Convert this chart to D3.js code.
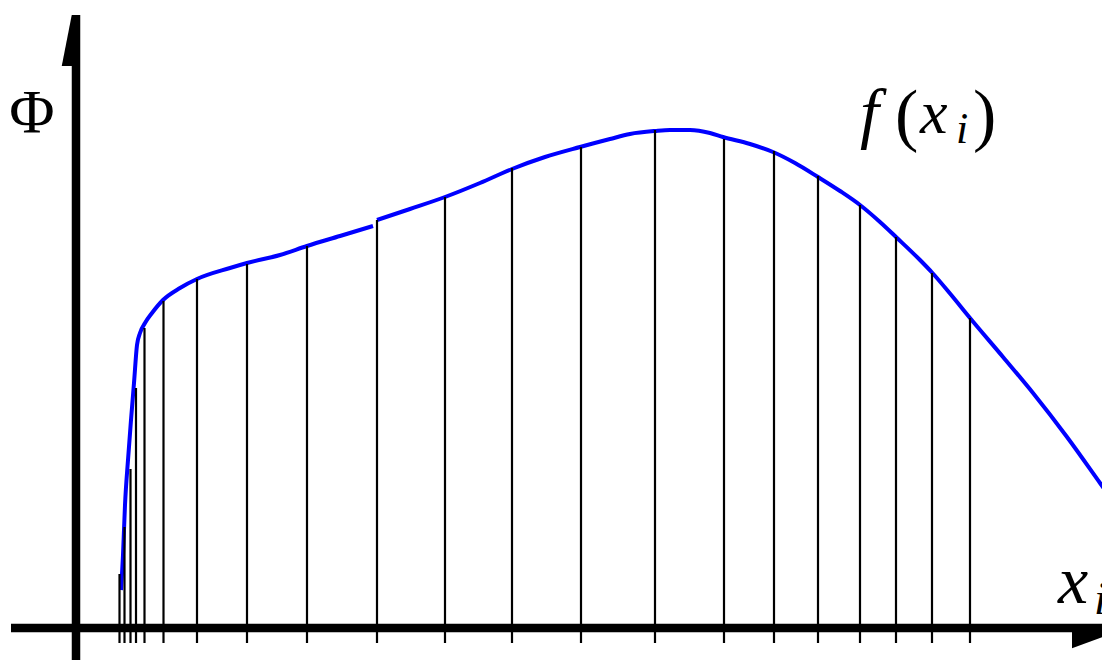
<!DOCTYPE html>
<html>
<head>
<meta charset="utf-8">
<script src="https://cdn.jsdelivr.net/npm/d3@7"></script>
<style>
  html, body { margin: 0; padding: 0; background: #fff; }
  svg { display: block; }
  text { font-family: "Liberation Serif", "DejaVu Serif", serif; fill: #000; }
</style>
</head>
<body>
<svg id="chart" width="1102" height="660"></svg>
<script>
// Sample points x_i and the function values f(x_i) at each of them
const sampleX = [4.35, 4.85, 5.45, 6.0, 6.85, 8.75, 12.1, 17.1, 23.1, 30.1, 36.9, 43.6,
                 50.5, 57.9, 64.8, 69.8, 74.2, 78.4, 82.0, 85.6, 89.4];
const sampleF = [10.8, 20.2, 31.8, 48.0, 60.0, 65.4, 69.8, 72.8, 76.4, 81.6, 86.2, 92.0,
                 96.2, 99.6, 97.8, 95.4, 90.4, 84.6, 78.2, 71.0, 62.0];

// The curve Φ(x), drawn as two pieces (slight jump between them)
const curveXA = [4.5, 4.7, 4.9, 5.2, 5.5, 5.8, 6.1, 6.4, 6.9, 7.6, 8.7, 10.4, 12.1, 15.4,
                 17.1, 20.4, 23.1, 26.4, 29.7];
const curveYA = [7.6, 14.6, 24.6, 33.6, 41.6, 49.0, 56.6, 59.0, 61.0, 63.0, 65.6, 68.0, 69.8,
                 72.0, 73.0, 74.6, 76.4, 78.4, 80.4];
const curveXB = [30.1, 33.4, 36.9, 40.4, 43.6, 46.9, 50.4, 53.4, 55.4, 57.9, 59.4, 61.4, 63.4,
                 64.7, 67.4, 69.7, 71.9, 74.2, 76.4, 78.4, 80.4, 82.0, 84.4, 85.6, 87.4, 89.4,
                 92.7, 95.7, 99.1, 102.4, 103.4];
const curveYB = [81.6, 83.8, 86.2, 89.0, 91.8, 94.2, 96.2, 97.8, 98.8, 99.4, 99.6, 99.6, 99.0,
                 98.2, 96.8, 95.2, 93.0, 90.2, 87.4, 84.6, 81.2, 78.2, 73.6, 71.1, 66.9, 62.0,
                 54.2, 47.0, 38.2, 29.0, 26.2];

// Labels
const yLabel = "Φ";
const xLabel = ["x", "i"];
const curveLabel = ["f", "(", "x", "i", ")"];

const svg = d3.select("#chart");
const W = 1102, H = 660;

const x = d3.scaleLinear().domain([0, 100]).range([76, 1076]);
const y = d3.scaleLinear().domain([0, 100]).range([628, 128]);

const axisW = 8.5;
const x0 = x(0), y0 = y(0);

// Curve
const line = d3.line()
  .x(d => x(d[0]))
  .y(d => y(d[1]))
  .curve(d3.curveMonotoneX);

const pieces = [
  d3.zip(curveXA, curveYA),
  d3.zip(curveXB, curveYB)
];

svg.append("g")
  .selectAll("path")
  .data(pieces)
  .join("path")
  .attr("d", line)
  .attr("fill", "none")
  .attr("stroke", "#0000ff")
  .attr("stroke-width", 4)
  .attr("stroke-linejoin", "round");

// Vertical lines at the sample points, from below the axis up to f(x_i)
const tickLen = 15;
svg.append("g")
  .selectAll("line")
  .data(d3.zip(sampleX, sampleF))
  .join("line")
  .attr("x1", d => x(d[0]))
  .attr("x2", d => x(d[0]))
  .attr("y1", y0 + tickLen)
  .attr("y2", d => y(d[1]))
  .attr("stroke", "#000")
  .attr("stroke-width", 2.2);

// Axes
const axes = svg.append("g");
// vertical axis
axes.append("line")
  .attr("x1", x0).attr("x2", x0)
  .attr("y1", 15).attr("y2", H)
  .attr("stroke", "#000").attr("stroke-width", axisW);
axes.append("path")
  .attr("d", `M${x0 - axisW / 2},15 L${x0 - axisW / 2 - 10},66 L${x0},66 Z`)
  .attr("fill", "#000");
// horizontal axis
axes.append("line")
  .attr("x1", 11).attr("x2", 1114)
  .attr("y1", y0).attr("y2", y0)
  .attr("stroke", "#000").attr("stroke-width", axisW);
axes.append("path")
  .attr("d", `M1072,${y0} L1072,${y0 + axisW / 2 + 16} L1116,${y0 + axisW / 2} L1116,${y0} Z`)
  .attr("fill", "#000");

// Axis labels
svg.append("text")
  .attr("x", 32).attr("y", 132)
  .attr("text-anchor", "middle")
  .attr("font-size", 62)
  .text(yLabel);

const xl = svg.append("text")
  .attr("font-style", "italic");
xl.append("tspan").attr("x", 1058).attr("y", 603).attr("font-size", 68).text(xLabel[0]);
xl.append("tspan").attr("x", 1094).attr("y", 614).attr("font-size", 46).text(xLabel[1]);

// Curve label f(x_i)
const cl = svg.append("text");
const clPos = [
  { x: 860, y: 136, size: 68, italic: true },
  { x: 895, y: 138, size: 70, italic: false },
  { x: 920, y: 133, size: 62, italic: true },
  { x: 956, y: 143, size: 44, italic: true },
  { x: 973, y: 138, size: 70, italic: false }
];
curveLabel.forEach((s, i) => {
  cl.append("tspan")
    .attr("x", clPos[i].x)
    .attr("y", clPos[i].y)
    .attr("font-size", clPos[i].size)
    .attr("font-style", clPos[i].italic ? "italic" : "normal")
    .text(s);
});
</script>
</body>
</html>
